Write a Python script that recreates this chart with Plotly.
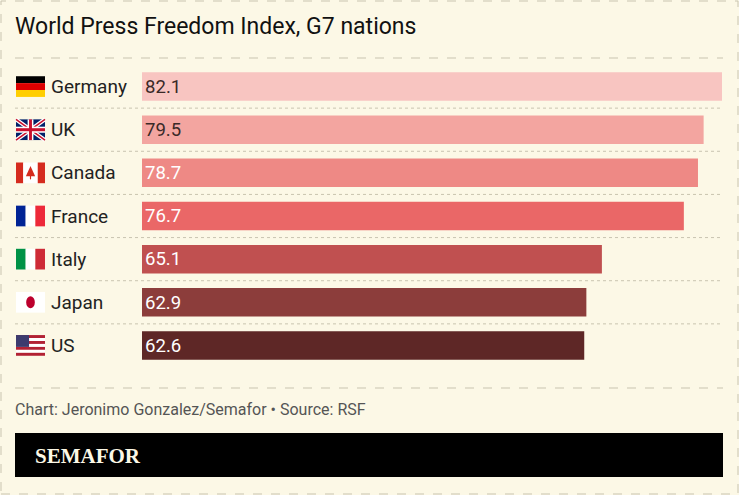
import plotly.graph_objects as go

countries = ["Germany", "UK", "Canada", "France", "Italy", "Japan", "US"]
scores = [82.1, 79.5, 78.7, 76.7, 65.1, 62.9, 62.6]
bar_colors = ["#f8c5c1", "#f3a5a0", "#ee8985", "#ea6767", "#c05050", "#8c3d3b", "#5e2726"]
text_colors = ["#3a2a28", "#3a2a28", "white", "white", "white", "white", "white"]

W, H = 739, 495
BG = "#fcf8e6"

fig = go.Figure(go.Bar(
    x=scores, y=countries, orientation="h",
    marker=dict(color=bar_colors, line=dict(width=0)),
    width=0.66,
    text=[f"{v:.1f}" for v in scores], textposition="inside",
    insidetextanchor="start",
    textfont=dict(color=text_colors, size=19, family="Roboto"),
    hoverinfo="none",
))

shapes = []
annotations = []

def px(x):
    return x / W

def py(y):
    return 1 - y / H

# dashed outer border
shapes.append(dict(type="rect", xref="paper", yref="paper", x0=px(1), x1=px(738), y0=py(494), y1=py(1),
                   line=dict(color="#c9c4b0", width=1, dash="dash")))
for yy in (58, 388):
    shapes.append(dict(type="line", xref="paper", yref="paper", x0=px(15), x1=px(723), y0=py(yy), y1=py(yy),
                       line=dict(color="#c9c4b0", width=1, dash="dash")))
# dotted row separators
for i in range(len(countries) - 1):
    shapes.append(dict(type="line", xref="paper", yref="y", x0=px(15), x1=px(723), y0=i + 0.5, y1=i + 0.5,
                       line=dict(color="#c9c4b0", width=1, dash="dot")))

# flags
fx0, fx1 = px(16), px(45)
fw = fx1 - fx0
hh = 0.24

def rect(x0, x1, y0, y1, c):
    shapes.append(dict(type="rect", xref="paper", yref="y", x0=x0, x1=x1, y0=y0, y1=y1,
                       fillcolor=c, line=dict(width=0), layer="above"))

for i, c in enumerate(countries):
    top, bot = i - hh, i + hh
    if c == "Germany":
        for k, col in enumerate(["#000000", "#dd0000", "#ffce00"]):
            rect(fx0, fx1, top + k * 2 * hh / 3, top + (k + 1) * 2 * hh / 3, col)
    elif c in ("France", "Italy"):
        cols = {"France": ["#002395", "#ffffff", "#ed2939"],
                "Italy": ["#009246", "#ffffff", "#ce2b37"]}[c]
        for k, col in enumerate(cols):
            rect(fx0 + fw * k / 3, fx0 + fw * (k + 1) / 3, top, bot, col)
    elif c == "Canada":
        rect(fx0, fx0 + fw * 0.25, top, bot, "#d52b1e")
        rect(fx0 + fw * 0.25, fx0 + fw * 0.75, top, bot, "#ffffff")
        rect(fx0 + fw * 0.75, fx1, top, bot, "#d52b1e")
        shapes.append(dict(type="path", xref="paper", yref="y", layer="above",
                           path=f"M {fx0+fw*0.5},{i-0.16} L {fx0+fw*0.66},{i+0.08} L {fx0+fw*0.34},{i+0.08} Z",
                           fillcolor="#d52b1e", line=dict(width=0)))
        rect(fx0 + fw * 0.48, fx0 + fw * 0.52, i, i + 0.15, "#d52b1e")
    elif c == "Japan":
        rect(fx0, fx1, top, bot, "#ffffff")
        shapes.append(dict(type="circle", xref="paper", yref="y", layer="above",
                           x0=fx0 + fw * 0.35, x1=fx0 + fw * 0.65, y0=i - 0.14, y1=i + 0.14,
                           fillcolor="#bc002d", line=dict(width=0)))
    elif c == "UK":
        rect(fx0, fx1, top, bot, "#012169")
        for d in ([fx0, top, fx1, bot], [fx0, bot, fx1, top]):
            shapes.append(dict(type="line", xref="paper", yref="y", layer="above",
                               x0=d[0], y0=d[1], x1=d[2], y1=d[3], line=dict(color="white", width=4)))
            shapes.append(dict(type="line", xref="paper", yref="y", layer="above",
                               x0=d[0], y0=d[1], x1=d[2], y1=d[3], line=dict(color="#c8102e", width=1.5)))
        rect(fx0 + fw * 0.4, fx0 + fw * 0.6, top, bot, "white")
        rect(fx0, fx1, i - 0.07, i + 0.07, "white")
        rect(fx0 + fw * 0.45, fx0 + fw * 0.55, top, bot, "#c8102e")
        rect(fx0, fx1, i - 0.035, i + 0.035, "#c8102e")
    elif c == "US":
        n = 7
        for k in range(n):
            rect(fx0, fx1, top + k * 2 * hh / n, top + (k + 1) * 2 * hh / n,
                 "#b22234" if k % 2 == 0 else "#ffffff")
        rect(fx0, fx0 + fw * 0.45, top, top + 4 * 2 * hh / n, "#3c3b6e")
    annotations.append(dict(xref="paper", yref="y", x=px(49), y=i, text=c, showarrow=False,
                            xanchor="left", font=dict(size=19, color="#222", family="Roboto")))

annotations += [
    dict(xref="paper", yref="paper", x=px(13), y=py(26), text="World Press Freedom Index, G7 nations",
         showarrow=False, xanchor="left", yanchor="middle", font=dict(size=23, color="#111", family="Roboto")),
    dict(xref="paper", yref="paper", x=px(13), y=py(409), text="Chart: Jeronimo Gonzalez/Semafor • Source: RSF",
         showarrow=False, xanchor="left", yanchor="middle", font=dict(size=16, color="#555", family="Roboto")),
    dict(xref="paper", yref="paper", x=px(33), y=py(456), text="<b>SEMAFOR</b>",
         showarrow=False, xanchor="left", yanchor="middle", font=dict(size=21, color="#fcf8e6", family="Liberation Serif")),
]
shapes.append(dict(type="rect", xref="paper", yref="paper", x0=px(15), x1=px(723), y0=py(477), y1=py(433),
                   fillcolor="#000000", line=dict(width=0)))

fig.update_layout(
    width=W, height=H, paper_bgcolor=BG, plot_bgcolor=BG,
    margin=dict(l=0, r=0, t=0, b=0),
    xaxis=dict(range=[0, 82.1], visible=False, domain=[142 / W, 722 / W]),
    yaxis=dict(range=[6.5, -0.5], autorange=False, visible=False, domain=[1 - 367 / H, 1 - 65 / H]),
    showlegend=False, shapes=shapes, annotations=annotations,
)
fig.write_html("out.html", config={"displayModeBar": False},
               post_script="document.body.style.margin='0';")
